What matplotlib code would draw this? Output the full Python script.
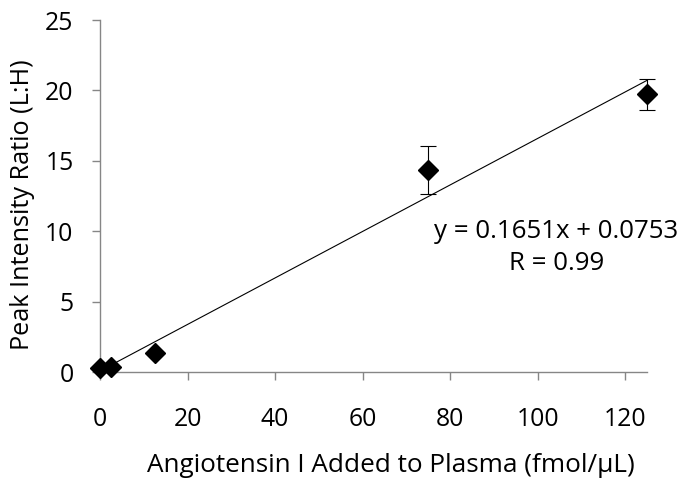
import matplotlib
matplotlib.use("Agg")
import matplotlib.pyplot as plt
import numpy as np

x_vals = [0, 2.5, 12.5, 75, 125]
y_vals = [0.3, 0.35, 1.33, 14.35, 19.72]
y_err = [0, 0, 0, 1.7, 1.12]
slope = 0.1651
intercept = 0.0753
x_ticks = [0, 20, 40, 60, 80, 100, 120]
y_ticks = [0, 5, 10, 15, 20, 25]

plt.rcParams['font.family'] = ['Open Sans', 'DejaVu Sans']
FS = 17.8

fig = plt.figure(figsize=(6.81, 4.83), dpi=100)
ax = fig.add_axes([100/681, 1 - 372/483, (647-100)/681, (372-20)/483])

xl = np.array([0, 125])
ax.plot(xl, slope * xl + intercept, color='black', lw=0.8, zorder=2)

ax.errorbar(x_vals, y_vals, yerr=y_err, fmt='D', color='black', ms=10,
            ecolor='black', elinewidth=0.8, capsize=6, capthick=0.8, zorder=3,
            clip_on=False)

ax.set_xlim(0, 125)
ax.set_ylim(0, 25)
ax.set_xticks(x_ticks)
ax.set_yticks(y_ticks)
for s in ['top', 'right']:
    ax.spines[s].set_visible(False)
for s in ['left', 'bottom']:
    ax.spines[s].set_color('#868686')
    ax.spines[s].set_linewidth(1.0)
ax.tick_params(axis='both', which='major', direction='out', length=6,
               width=1.0, color='#868686', labelsize=FS)
ax.tick_params(axis='x', pad=19)
ax.tick_params(axis='y', pad=13)

fig.text(391/681, 1 - 466/483, 'Angiotensin I Added to Plasma (fmol/μL)',
         fontsize=18.8, ha='center', va='center')
fig.text(23/681, 1 - 204.5/483, 'Peak Intensity Ratio (L:H)',
         fontsize=18.2, ha='center', va='center', rotation=90)

fig.text(556/681, 1 - 238.3/483, 'y = 0.1651x + 0.0753', fontsize=18.6,
         ha='center', va='baseline')
fig.text(557/681, 1 - 270/483, 'R = 0.99', fontsize=18.6,
         ha='center', va='baseline')

fig.savefig('out.png', dpi=100)
